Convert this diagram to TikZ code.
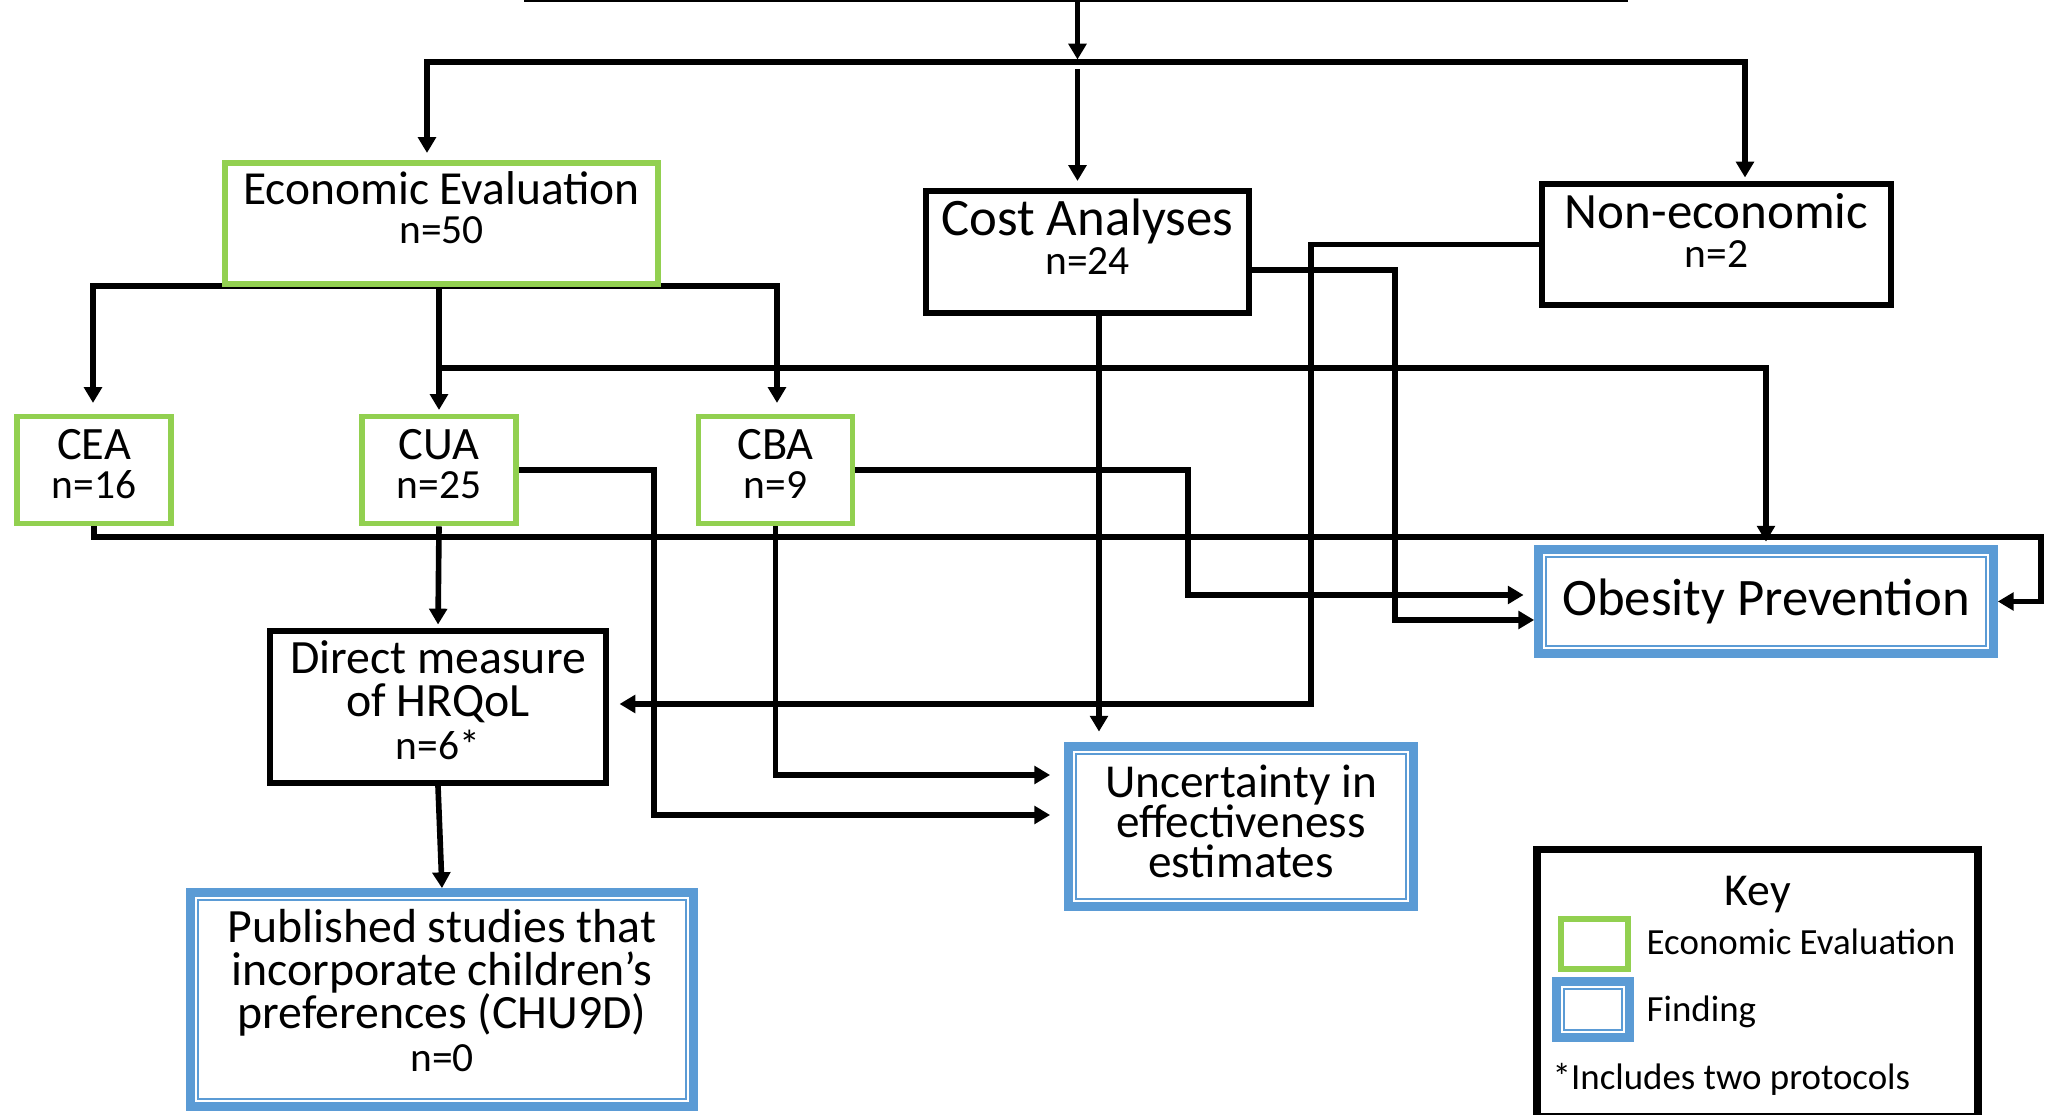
\documentclass[tikz,border=0pt]{standalone}
\usepackage{fontspec}
\setmainfont{Carlito}
\usepackage{xcolor}
\usetikzlibrary{arrows.meta, positioning, calc, backgrounds}
\definecolor{econgreen}{HTML}{92D050}
\definecolor{findblue}{HTML}{5B9BD5}
\newcommand{\ncount}{\fontsize{11.8}{12.2}\selectfont}
\setlength{\lineskiplimit}{-20pt}

\begin{document}
\begin{tikzpicture}[
      econbox/.style={draw=econgreen, fill=white, line width=1.7pt, align=center, inner sep=2pt},
      plainbox/.style={draw=black, fill=white, line width=1.7pt, align=center, inner sep=2pt},
      findbox/.style={draw=findblue, fill=white, line width=5.6pt, align=center, inner sep=2pt,
        postaction={draw=findblue, fill=white, line width=0.5pt, double=white, double distance=0.6pt}},
      keybox/.style={draw=black, fill=white, line width=2pt},
      boxfont/.style={font=\fontsize{#1}{12.2}\selectfont},
      keytext/.style={font=\fontsize{10.5}{12}\selectfont, anchor=base west, inner sep=0pt},
      arrow/.style={-{Triangle[length=4.5pt, width=5pt]}, line width=1.6pt},
      link/.style={line width=1.6pt}
    ]
      \useasboundingbox (0,0) rectangle (20.54,-11.15);

      % Study types
      \node[econbox, boxfont=13.5, minimum width=4.33cm, minimum height=1.21cm]
        (ee) at (4.415,-2.235)
        {Economic Evaluation\\[-1.2pt]{\ncount n=50}\\[-3pt]\mbox{}};
      \node[plainbox, boxfont=15, minimum width=3.23cm, minimum height=1.22cm]
        (ca) at (10.875,-2.52)
        {Cost Analyses\\[-1.2pt]{\ncount n=24}\\[-3.5pt]\mbox{}};
      \node[plainbox, boxfont=14.5, minimum width=3.49cm, minimum height=1.21cm]
        (ne) at (17.165,-2.445)
        {Non-economic\\[-1.2pt]{\ncount n=2}\\[-4.2pt]\mbox{}};

      % Kinds of economic evaluation
      \node[econbox, boxfont=13.2, minimum width=1.54cm, minimum height=1.07cm]
        (cea) at (0.94,-4.70) {CEA\\[-1.1pt]{\ncount n=16}\\[-8.8pt]\mbox{}};
      \node[econbox, boxfont=13.2, minimum width=1.54cm, minimum height=1.07cm]
        (cua) at (4.39,-4.70) {CUA\\[-1.1pt]{\ncount n=25}\\[-8.8pt]\mbox{}};
      \node[econbox, boxfont=13.2, minimum width=1.54cm, minimum height=1.07cm]
        (cba) at (7.755,-4.70) {CBA\\[-1.1pt]{\ncount n=9}\\[-8.8pt]\mbox{}};

      \node[plainbox, boxfont=13.6, minimum width=3.36cm, minimum height=1.52cm]
        (dm) at (4.38,-7.07)
        {Direct measure\\of HRQoL\\{\ncount n=6*}\\[-8.2pt]\mbox{}};

      % Findings
      \node[findbox, boxfont=15, minimum width=4.44cm, minimum height=0.93cm]
        (op) at (17.66,-6.015) {Obesity Prevention};
      \node[findbox, boxfont=13.45, minimum width=3.34cm, minimum height=1.49cm]
        (ue) at (12.41,-8.265)
        {Uncertainty in\\[-0.75pt]effectiveness\\[-0.75pt]estimates\\[-9.2pt]\mbox{}};
      \node[findbox, boxfont=13.6, minimum width=4.92cm, minimum height=2.03cm]
        (ps) at (4.42,-9.995)
        {Published studies that\\incorporate children’s\\preferences (CHU9D)\\{\ncount n=0}\\[-7pt]\mbox{}};

      % Key
      \node[keybox, minimum width=4.41cm, minimum height=2.665cm] (key) at (17.575,-9.83) {};
      \node[boxfont=13, anchor=base, inner sep=0pt] (keytitle) at (17.58,-9.06) {Key};
      \node[econbox, minimum width=0.67cm, minimum height=0.50cm] (keyecon) at (15.945,-9.44) {};
      \node[findbox, minimum width=0.62cm, minimum height=0.45cm] (keyfind) at (15.93,-10.095) {};
      \node[keytext] (keyecontext) at (16.46,-9.55) {Economic Evaluation};
      \node[keytext] (keyfindtext) at (16.46,-10.22) {Finding};
      \node[keytext] (keynote) at (15.52,-10.90) {*Includes two protocols};

      \begin{scope}[on background layer]
        % Feed from above
        \coordinate (topl) at (5.24,-0.01);
        \coordinate (topr) at (16.28,-0.01);
        \coordinate (topin) at (10.775,0);
        \coordinate (split) at (10.775,-0.62);
        \coordinate (splitl) at (4.27,-0.62);
        \coordinate (splitr) at (17.45,-0.62);
        \draw[line width=0.7pt] (topl) -- (topr);
        \draw[arrow, shorten >=0.7pt] (topin) -- (split);
        \draw[arrow, shorten >=2pt] (split) -- (splitl) -- (splitl |- ee.north);
        \draw[arrow, shorten >=1pt] (split) -- (splitr) -- (splitr |- ne.north);
        \draw[arrow, shorten >=2pt] ([yshift=-2pt]split) -- (split |- ca.north);

        % Economic evaluation split
        \coordinate (forkl) at (0.93,-2.86);
        \coordinate (forkr) at (7.77,-2.86);
        \draw[arrow, shorten >=3pt] (forkl -| ee.south) -- (forkl) -- (forkl |- cea.north);
        \draw[arrow, shorten >=3pt] (forkr -| ee.south) -- (forkr) -- (forkr |- cba.north);
        \draw[arrow, shorten >=1pt] (ee.south -| cua.north) -- (cua.north);

        % Routes to the findings
        \coordinate (cuaop) at (4.39,-3.68);
        \coordinate (loopr) at (20.41,-5.37);
        \coordinate (cuaturn) at (6.54,-8.15);
        \coordinate (cbarow) at (0,-7.75);
        \coordinate (cbaturn) at (11.88,-5.95);
        \coordinate (caturn) at (13.95,-6.20);
        \coordinate (neturn) at (13.11,-7.04);
        \draw[arrow, shorten >=1pt] (cuaop) -| (op.north);
        \draw[arrow] (cea.south) |- (loopr) |- (op.east);
        \draw[arrow, shorten >=4pt] (cua.east) -| (cuaturn) -- (cuaturn -| ue.west);
        \draw[arrow, shorten >=4pt] (cba.south) |- (cbarow -| ue.west);
        \draw[arrow, shorten >=3pt] (cba.east) -| (cbaturn) -- (cbaturn -| op.west);
        \draw[arrow] ([yshift=-0.18cm]ca.east) -| (caturn) -- (caturn -| op.west);
        \draw[arrow, shorten >=3pt] ([xshift=0.115cm]ca.south) -- ([xshift=0.115cm]ca.south |- ue.north);
        \draw[arrow, shorten >=3pt] (ne.west) -| (neturn) -- (neturn -| dm.east);
        \draw[arrow, shorten >=1pt] (cua.south) -- (dm.north);
        \draw[arrow] (dm.south) -- (ps.north);
      \end{scope}
    \end{tikzpicture}
\end{document}
